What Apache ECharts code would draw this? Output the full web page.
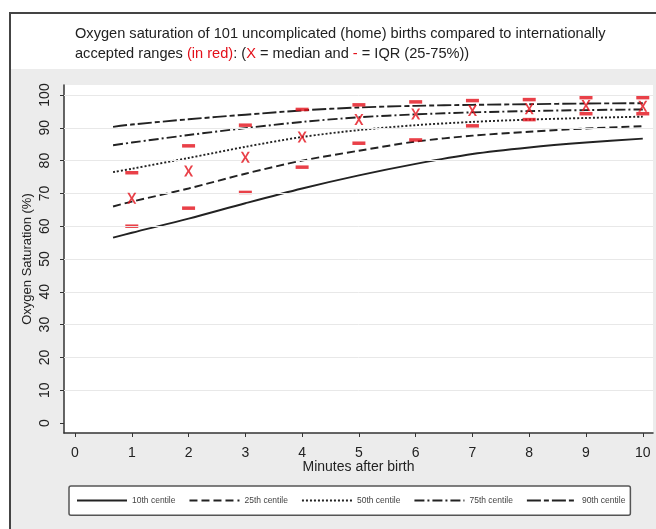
<!DOCTYPE html>
<html>
<head>
<meta charset="utf-8">
<title>Oxygen saturation</title>
<script src="https://cdn.jsdelivr.net/npm/echarts@6/dist/echarts.min.js"></script>
<style>
  html, body { margin: 0; padding: 0; background: #fff; }
  #main { width: 656px; height: 529px; }
</style>
</head>
<body>
<div id="main"></div>
<script>
// centile curves (minutes after birth)
var curveMinutes = [0.67, 1, 2, 3, 4, 5, 6, 7, 8, 9, 10];
var p10 = [56.5, 58, 62.3, 67, 71.5, 75.5, 79, 82, 84, 85.5, 86.7];
var p25 = [66, 67.5, 71.5, 76, 80, 83, 85.8, 87.6, 88.8, 89.8, 90.5];
var p50 = [76.5, 77.5, 80.8, 84.2, 87.2, 89.3, 90.8, 91.8, 92.5, 93, 93.4];
var p75 = [84.7, 85.5, 87.8, 89.9, 91.8, 93.2, 94.1, 94.7, 95.1, 95.4, 95.6];
var p90 = [90.3, 91, 92.6, 94, 95.3, 96.2, 96.7, 97, 97.2, 97.4, 97.5];

// home births: median and IQR (red)
var markerMinutes = [1, 2, 3, 4, 5, 6, 7, 8, 9, 10];
var median = [68.5, 76.8, 81, 87.2, 92.5, 94.2, 95.3, 95.8, 96.8, 96.6];
var iqrLow = [60, 65.5, 70.3, 78, 85.3, 86.3, 90.6, 92.5, 94.3, 94.3];
var iqrHigh = [76.3, 84.5, 90.8, 95.6, 97, 97.9, 98.3, 98.6, 99.2, 99.2];

var xTicks = [0, 1, 2, 3, 4, 5, 6, 7, 8, 9, 10];
var yTicks = [0, 10, 20, 30, 40, 50, 60, 70, 80, 90, 100];
var centileNames = ['10th centile', '25th centile', '50th centile', '75th centile', '90th centile'];

var red = '#e3101a';
var ink = '#222';

function pairs(xs, ys) {
    var out = [];
    for (var i = 0; i < xs.length; i++) {
        out.push([xs[i], ys[i]]);
    }
    return out;
}

function centile(name, values, dash) {
    return {
        name: name,
        type: 'line',
        data: pairs(curveMinutes, values),
        smooth: 0.3,
        symbol: 'none',
        silent: true,
        lineStyle: { color: ink, width: 1.9, type: dash },
        itemStyle: { color: ink },
        z: 3
    };
}

var xMark = 'path://M0,0L2.4,0L5,4.5L7.6,0L10,0L6.3,6L10,12L7.6,12L5,7.5L2.4,12L0,12L3.7,6Z';
var textFont = 'Liberation Sans';

var myChart = echarts.init(document.getElementById('main'), null, { renderer: 'canvas' });

myChart.setOption({
    backgroundColor: '#fff',
    animation: false,
    title: {
        left: 70,
        top: 19,
        text: '{a|Oxygen saturation of 101 uncomplicated (home) births compared to internationally}\n' +
              '{a|accepted ranges }{r|(in red)}{a|: (}{r|X}{a| = median and }{r|-}{a| = IQR (25-75%))}',
        textStyle: {
            fontWeight: 'normal',
            rich: {
                a: { fontFamily: textFont, fontWeight: 'normal', fontSize: 14.6, color: ink, lineHeight: 20 },
                r: { fontFamily: textFont, fontWeight: 'normal', fontSize: 14.6, color: red, lineHeight: 20 }
            }
        }
    },
    graphic: [
        // outer frame and grey graph region
        { type: 'rect', z: -10, shape: { x: 10, y: 13, width: 660, height: 530 },
          style: { fill: '#fff', stroke: '#444', lineWidth: 2 } },
        { type: 'rect', z: -9, shape: { x: 11, y: 69, width: 660, height: 470 },
          style: { fill: '#ececec' } },
        // white plot region
        { type: 'rect', z: -8, shape: { x: 64, y: 85, width: 589, height: 348 },
          style: { fill: '#fff' } }
    ],
    legend: {
        data: centileNames,
        left: 69,
        top: 486,
        padding: [9, 5, 9, 7],
        itemWidth: 50,
        itemHeight: 14,
        itemGap: 13,
        backgroundColor: '#fff',
        borderColor: '#555',
        borderWidth: 1.5,
        borderRadius: 2,
        selectedMode: false,
        itemStyle: { color: 'rgba(0,0,0,0)', borderWidth: 0, opacity: 0 },
        textStyle: { fontFamily: textFont, fontSize: 8.5, color: '#444', width: 48 }
    },
    grid: {
        left: 64,
        right: 3,
        top: 85,
        bottom: 96,
        containLabel: false
    },
    xAxis: {
        type: 'value',
        min: -0.194,
        max: 10.18,
        name: 'Minutes after birth',
        nameLocation: 'middle',
        nameGap: 27,
        nameMoveOverlap: false,
        nameTextStyle: { fontFamily: textFont, fontSize: 14, color: ink },
        axisLine: { show: true, onZero: false, lineStyle: { color: '#333', width: 1.5 } },
        axisTick: { show: true, length: 4, customValues: xTicks, lineStyle: { color: '#333' } },
        axisLabel: { customValues: xTicks, margin: 13, fontFamily: textFont,
                     fontSize: 14, color: ink },
        splitLine: { show: false }
    },
    yAxis: {
        type: 'value',
        min: -3.05,
        max: 103.05,
        name: 'Oxygen Saturation (%)',
        nameLocation: 'middle',
        nameGap: 30,
        nameMoveOverlap: false,
        nameTextStyle: { fontFamily: textFont, fontSize: 13, color: ink },
        axisLine: { show: true, onZero: false, lineStyle: { color: '#333', width: 1.5 } },
        axisTick: { show: true, length: 4, customValues: yTicks, lineStyle: { color: '#333' } },
        axisLabel: { customValues: yTicks, rotate: 90, margin: 12, fontFamily: textFont,
                     fontSize: 14, color: ink },
        splitLine: { show: false }
    },
    series: [
        centile('10th centile', p10, 'solid'),
        centile('25th centile', p25, [8, 4]),
        centile('50th centile', p50, [2, 2]),
        centile('75th centile', p75, [10, 3, 2, 3]),
        centile('90th centile', p90, [14, 3, 5, 3]),
        {
            // horizontal grid lines
            name: 'grid',
            type: 'line',
            data: [],
            silent: true,
            markLine: {
                silent: true,
                symbol: 'none',
                label: { show: false },
                lineStyle: { color: '#e8e8e8', width: 1, type: 'solid' },
                data: yTicks.slice(1).map(function (v) { return { yAxis: v }; })
            },
            z: 1
        },
        {
            name: 'IQR',
            type: 'scatter',
            data: pairs(markerMinutes, iqrLow).concat(pairs(markerMinutes, iqrHigh)),
            symbol: 'rect',
            symbolSize: [13, 3.5],
            itemStyle: { color: red },
            silent: true,
            z: 4
        },
        {
            name: 'Median',
            type: 'scatter',
            data: pairs(markerMinutes, median),
            symbol: xMark,
            symbolSize: [9, 11],
            itemStyle: { color: red },
            silent: true,
            z: 5
        }
    ]
});
</script>
</body>
</html>
